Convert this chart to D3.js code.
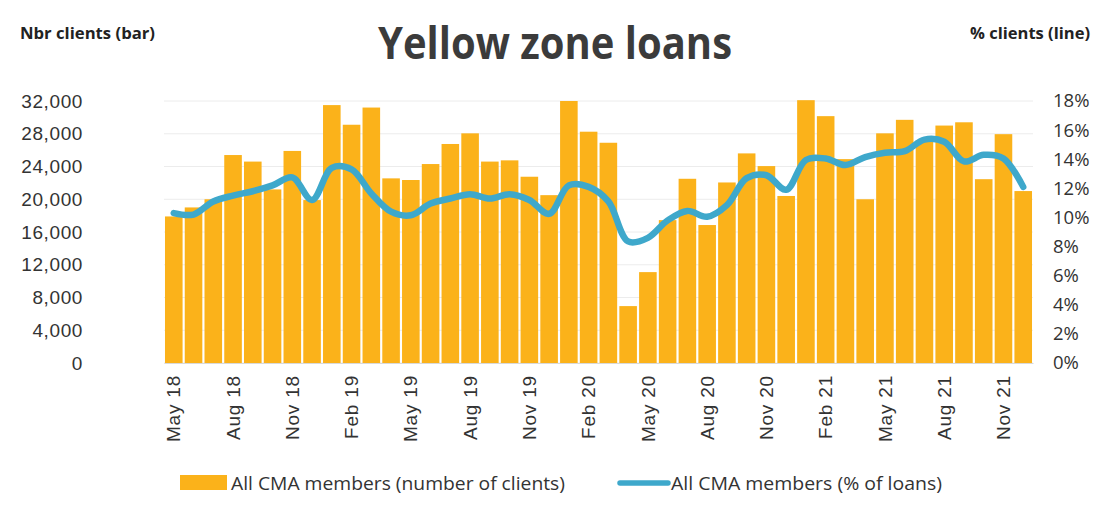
<!DOCTYPE html>
<html>
<head>
<meta charset="utf-8">
<script src="https://cdn.jsdelivr.net/npm/d3@7"></script>
<style>
  html, body { margin: 0; padding: 0; background: #fff; }
  svg { display: block; }
</style>
</head>
<body>
<svg id="chart" width="1098" height="509"></svg>
<script>
const months = [
  "May 18","Jun 18","Jul 18","Aug 18","Sep 18","Oct 18","Nov 18","Dec 18",
  "Jan 19","Feb 19","Mar 19","Apr 19","May 19","Jun 19","Jul 19","Aug 19","Sep 19","Oct 19","Nov 19","Dec 19",
  "Jan 20","Feb 20","Mar 20","Apr 20","May 20","Jun 20","Jul 20","Aug 20","Sep 20","Oct 20","Nov 20","Dec 20",
  "Jan 21","Feb 21","Mar 21","Apr 21","May 21","Jun 21","Jul 21","Aug 21","Sep 21","Oct 21","Nov 21","Dec 21"
];
const clients = [
  17900, 19000, 20000, 25400, 24600, 21200, 25900, 19900,
  31500, 29100, 31200, 22550, 22350, 24300, 26750, 28050, 24600, 24750, 22750, 20500,
  32000, 28250, 26900, 6950, 11100, 17450, 22500, 16850, 22050, 25600, 24050, 20400,
  32100, 30150, 24900, 20000, 28050, 29700, 27200, 29000, 29400, 22450, 27950, 21000
];
const pctLoans = [
  10.3, 10.2, 11.1, 11.5, 11.8, 12.2, 12.75, 11.2,
  13.4, 13.3, 11.65, 10.4, 10.15, 10.95, 11.3, 11.6, 11.3, 11.6, 11.2, 10.25,
  12.2, 12.1, 11.1, 8.35, 8.6, 9.8, 10.45, 10.05, 10.85, 12.7, 12.9, 11.9,
  13.95, 14.05, 13.6, 14.15, 14.45, 14.55, 15.35, 15.2, 13.85, 14.3, 14.05, 12.1
];
const leftTicks = [0, 4000, 8000, 12000, 16000, 20000, 24000, 28000, 32000];
const rightTicks = [0, 2, 4, 6, 8, 10, 12, 14, 16, 18];
const xTickLabels = months.filter((d, i) => i % 3 === 0);

const title = "Yellow zone loans";
const leftTitle = "Nbr clients (bar)";
const rightTitle = "% clients (line)";
const barLegend = "All CMA members (number of clients)";
const lineLegend = "All CMA members (% of loans)";

const svg = d3.select("#chart");
const plot = { left: 164, right: 1033, top: 101, bottom: 363 };

const barColor = "#FBB21A";
const lineColor = "#3EA8CB";
const condensed = "'Open Sans', sans-serif";

const x = d3.scaleBand().domain(months).range([plot.left, plot.right]).paddingInner(0.11).paddingOuter(0.05);
const yL = d3.scaleLinear().domain([0, 32000]).range([plot.bottom, plot.top]);
const yR = d3.scaleLinear().domain([0, 18]).range([plot.bottom, plot.top]);

// gridlines
svg.append("g").selectAll("line").data(leftTicks).join("line")
  .attr("x1", plot.left).attr("x2", plot.right)
  .attr("y1", d => yL(d)).attr("y2", d => yL(d))
  .attr("stroke", "#ececec").attr("stroke-width", 1);

// bars
svg.append("g").selectAll("rect").data(months).join("rect")
  .attr("x", d => x(d))
  .attr("width", x.bandwidth())
  .attr("y", (d, i) => yL(clients[i]))
  .attr("height", (d, i) => yL(0) - yL(clients[i]))
  .attr("fill", barColor);

// line
const line = d3.line()
  .x((d, i) => x(months[i]) + x.bandwidth() / 2)
  .y(d => yR(d))
  .curve(d3.curveCatmullRom.alpha(0.5));
svg.append("path").datum(pctLoans)
  .attr("d", line)
  .attr("fill", "none")
  .attr("stroke", lineColor)
  .attr("stroke-width", 6.5)
  .attr("stroke-linecap", "round")
  .attr("stroke-linejoin", "round");

// left axis
const axL = d3.axisLeft(yL).tickValues(leftTicks).tickFormat(d3.format(",")).tickSize(0).tickPadding(0);
const gL = svg.append("g").attr("transform", `translate(83,0)`).call(axL);
gL.select(".domain").remove();
gL.selectAll("text").attr("font-family", "'Liberation Sans', Arial, sans-serif").attr("font-size", 19)
  .attr("letter-spacing", "0.6").attr("fill", "#333");

// right axis
const axR = d3.axisRight(yR).tickValues(rightTicks).tickFormat(d => d + "%").tickSize(0).tickPadding(0);
const gR = svg.append("g").attr("transform", `translate(1053,0)`).call(axR);
gR.select(".domain").remove();
gR.selectAll("text").attr("font-family", condensed).attr("font-size", 18.5).attr("fill", "#333");

// x axis
const axX = d3.axisBottom(x).tickValues(xTickLabels).tickSize(0).tickPadding(0);
const gX = svg.append("g").attr("transform", `translate(0,${plot.bottom})`).call(axX);
gX.select(".domain").attr("stroke", "#d9d9d9");
gX.selectAll("text")
  .attr("font-family", "'Liberation Sans', Arial, sans-serif").attr("font-size", 19).attr("fill", "#333")
  .attr("letter-spacing", "0.8")
  .attr("transform", "rotate(-90)")
  .attr("text-anchor", "end")
  .attr("dx", "-12")
  .attr("dy", "0.35em")
  .attr("x", 0).attr("y", 0);

// titles
svg.append("text").attr("x", 378).attr("y", 59)
  .attr("font-family", condensed).attr("font-weight", "bold").attr("font-size", 44)
  .attr("textLength", 354).attr("lengthAdjust", "spacingAndGlyphs")
  .attr("fill", "#3b3b3b").text(title);
svg.append("text").attr("x", 20).attr("y", 39)
  .attr("font-family", condensed).attr("font-weight", "bold").attr("font-size", 16)
  .attr("textLength", 135).attr("lengthAdjust", "spacingAndGlyphs")
  .attr("fill", "#222").text(leftTitle);
svg.append("text").attr("x", 970).attr("y", 39)
  .attr("font-family", condensed).attr("font-weight", "bold").attr("font-size", 16)
  .attr("textLength", 120).attr("lengthAdjust", "spacingAndGlyphs")
  .attr("fill", "#222").text(rightTitle);

// legend
const lg = svg.append("g");
lg.append("rect").attr("x", 180).attr("y", 475).attr("width", 47).attr("height", 15).attr("fill", barColor);
lg.append("text").attr("x", 231).attr("y", 490)
  .attr("font-family", condensed).attr("font-size", 19)
  .attr("textLength", 334).attr("lengthAdjust", "spacingAndGlyphs")
  .attr("fill", "#333").text(barLegend);
lg.append("line").attr("x1", 620).attr("x2", 668).attr("y1", 483).attr("y2", 483)
  .attr("stroke", lineColor).attr("stroke-width", 5.5).attr("stroke-linecap", "round");
lg.append("text").attr("x", 671).attr("y", 490)
  .attr("font-family", condensed).attr("font-size", 19)
  .attr("textLength", 271).attr("lengthAdjust", "spacingAndGlyphs")
  .attr("fill", "#333").text(lineLegend);
</script>
</body>
</html>
